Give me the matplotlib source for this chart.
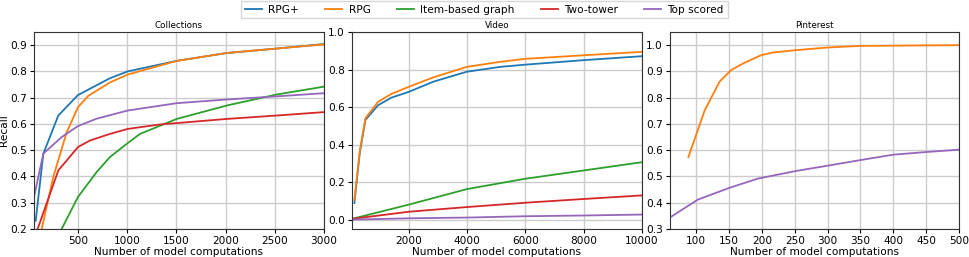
import matplotlib
matplotlib.use("Agg")
import matplotlib.pyplot as plt

labels = ["RPG+", "RPG", "Item-based graph", "Two-tower", "Top scored"]
colors = ["#1f77b4", "#ff7f0e", "#2ca02c", "#d62728", "#9467bd"]

# Collections
col_rpgp_x = [70, 148, 300, 500, 825, 1005, 1503, 2011, 2519, 3000]
col_rpgp_y = [0.231, 0.487, 0.632, 0.71, 0.774, 0.80, 0.84, 0.87, 0.887, 0.904]
col_rpg_x = [125, 250, 385, 500, 605, 825, 1005, 1503, 2011, 3000]
col_rpg_y = [0.19, 0.40, 0.568, 0.664, 0.707, 0.758, 0.788, 0.84, 0.87, 0.903]
col_item_x = [334, 500, 690, 825, 1005, 1130, 1503, 2011, 2519, 3000]
col_item_y = [0.20, 0.322, 0.417, 0.474, 0.527, 0.562, 0.619, 0.67, 0.712, 0.742]
col_tt_x = [85, 300, 500, 622, 825, 1005, 1334, 2011, 2519, 3000]
col_tt_y = [0.195, 0.423, 0.512, 0.537, 0.562, 0.581, 0.598, 0.619, 0.632, 0.645]
col_top_x = [53, 148, 334, 500, 690, 1005, 1503, 2011, 2519, 3000]
col_top_y = [0.322, 0.487, 0.55, 0.592, 0.62, 0.651, 0.679, 0.693, 0.705, 0.717]

# Video
vid_rpgp_x = [132, 315, 510, 946, 1400, 2000, 2837, 3983, 5129, 6000, 8000, 10000]
vid_rpgp_y = [0.088, 0.354, 0.531, 0.61, 0.65, 0.681, 0.735, 0.788, 0.814, 0.826, 0.85, 0.871]
vid_rpg_x = [132, 315, 510, 946, 1400, 2000, 2837, 3983, 5129, 6000, 8000, 10000]
vid_rpg_y = [0.106, 0.363, 0.54, 0.628, 0.67, 0.708, 0.758, 0.814, 0.841, 0.857, 0.876, 0.894]
vid_lin_x = [50, 2000, 4000, 6000, 8000, 10000]
vid_item_y = [0.004, 0.08, 0.163, 0.218, 0.262, 0.306]
vid_tt_y = [0.004, 0.042, 0.067, 0.09, 0.11, 0.129]
vid_top_y = [0.0, 0.007, 0.011, 0.018, 0.022, 0.027]

# Pinterest
pin_rpg_x = [88, 112.7, 135.5, 153, 171, 199, 217, 252, 300, 349, 500]
pin_rpg_y = [0.574, 0.751, 0.861, 0.905, 0.93, 0.962, 0.972, 0.981, 0.991, 0.997, 1.0]
pin_top_x = [60, 102.5, 150.8, 194, 252, 300, 349, 400, 450, 500]
pin_top_y = [0.344, 0.412, 0.457, 0.492, 0.521, 0.541, 0.562, 0.583, 0.593, 0.602]

fig = plt.figure(figsize=(9.69, 2.57), dpi=100)
W, H = 969, 257
def mk(l, r, t=32, b=229):
    return fig.add_axes([l / W, 1 - b / H, (r - l) / W, (b - t) / H])

ax1 = mk(34, 324)
ax2 = mk(352, 642)
ax3 = mk(670, 959)

fs = 7.6
lw = 1.3
lines = []
for xs, ys, c, lab in [(col_rpgp_x, col_rpgp_y, colors[0], labels[0]),
                       (col_rpg_x, col_rpg_y, colors[1], labels[1]),
                       (col_item_x, col_item_y, colors[2], labels[2]),
                       (col_tt_x, col_tt_y, colors[3], labels[3]),
                       (col_top_x, col_top_y, colors[4], labels[4])]:
    l, = ax1.plot(xs, ys, color=c, lw=lw, label=lab)
    lines.append(l)

ax2.plot(vid_rpgp_x, vid_rpgp_y, color=colors[0], lw=lw)
ax2.plot(vid_rpg_x, vid_rpg_y, color=colors[1], lw=lw)
ax2.plot(vid_lin_x, vid_item_y, color=colors[2], lw=lw)
ax2.plot(vid_lin_x, vid_tt_y, color=colors[3], lw=lw)
ax2.plot(vid_lin_x, vid_top_y, color=colors[4], lw=lw)

ax3.plot(pin_rpg_x, pin_rpg_y, color=colors[1], lw=lw)
ax3.plot(pin_top_x, pin_top_y, color=colors[4], lw=lw)

ax1.set_xlim(53, 3000); ax1.set_ylim(0.2, 0.95)
ax1.set_xticks([500, 1000, 1500, 2000, 2500, 3000])
ax1.set_yticks([0.2, 0.3, 0.4, 0.5, 0.6, 0.7, 0.8, 0.9])
ax1.set_ylabel("Recall", fontsize=fs, labelpad=1)
ax1.set_title("Collections", fontsize=6.3, pad=3)

ax2.set_xlim(50, 10000); ax2.set_ylim(-0.05, 1.0)
ax2.set_xticks([2000, 4000, 6000, 8000, 10000])
ax2.set_yticks([0.0, 0.2, 0.4, 0.6, 0.8, 1.0])
ax2.set_title("Video", fontsize=6.3, pad=3)

ax3.set_xlim(60, 500); ax3.set_ylim(0.3, 1.05)
ax3.set_xticks([100, 150, 200, 250, 300, 350, 400, 450, 500])
ax3.set_yticks([0.3, 0.4, 0.5, 0.6, 0.7, 0.8, 0.9, 1.0])
ax3.set_title("Pinterest", fontsize=6.3, pad=3)

for ax in (ax1, ax2, ax3):
    ax.grid(True, color="#cccccc", lw=1.0)
    ax.set_axisbelow(True)
    ax.tick_params(labelsize=fs, length=3, pad=2)
    ax.set_xlabel("Number of model computations", fontsize=fs, labelpad=1)
    for s in ax.spines.values():
        s.set_color("#333333")
        s.set_linewidth(0.8)

fig.legend(lines, labels, loc="upper center", bbox_to_anchor=(0.5, 1 - 1 / H), ncol=5,
           fontsize=fs, frameon=True, handlelength=1.6, columnspacing=2.5,
           borderpad=0.35, borderaxespad=0.0, handletextpad=0.6,
           edgecolor="#cccccc", fancybox=False)

fig.savefig("out.png", dpi=100)
